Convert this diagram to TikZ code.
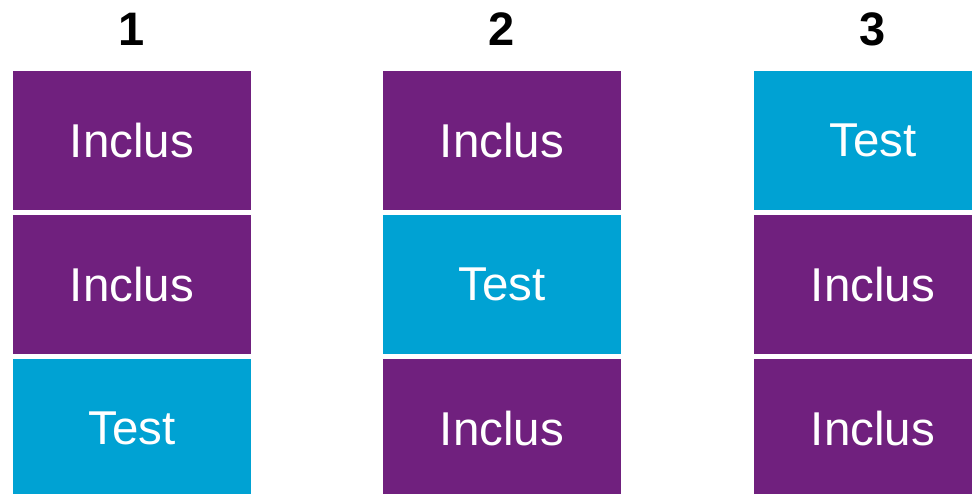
\documentclass[tikz,border=0pt]{standalone}
\usepackage{fontspec}
\setmainfont{Liberation Sans}
\definecolor{incl}{HTML}{70207E}
\definecolor{tst}{HTML}{00A2D3}
\tikzset{
  cell/.style={rectangle, inner sep=0pt, minimum width=238pt, minimum height=139pt, text=white, font=\fontsize{47.5}{47.5}\selectfont},
  inclbox/.style={cell, fill=incl},
  testbox/.style={cell, fill=tst},
  colhead/.style={font=\fontsize{47}{47}\selectfont\bfseries, text=black, inner sep=0pt}
}
\begin{document}
\begin{tikzpicture}[x=1pt,y=-1pt]
\useasboundingbox (0,0) rectangle (972,494);
\clip (0,0) rectangle (972,494);
\fill[white] (0,0) rectangle (972,494);
% column 1
\node[colhead] (h1) at (132,29) {1};
\node[inclbox] (a1) at (132,140.5) {Inclus};
\node[inclbox] (a2) at (132,284.5) {Inclus};
\node[testbox] (a3) at (132,428.5) {Test};
% column 2
\node[colhead] (h2) at (502,29) {2};
\node[inclbox] (b1) at (502,140.5) {Inclus};
\node[testbox] (b2) at (502,284.5) {Test};
\node[inclbox] (b3) at (502,428.5) {Inclus};
% column 3
\node[colhead] (h3) at (873,29) {3};
\node[testbox] (c1) at (873,140.5) {Test};
\node[inclbox] (c2) at (873,284.5) {Inclus};
\node[inclbox] (c3) at (873,428.5) {Inclus};
\end{tikzpicture}
\end{document}
